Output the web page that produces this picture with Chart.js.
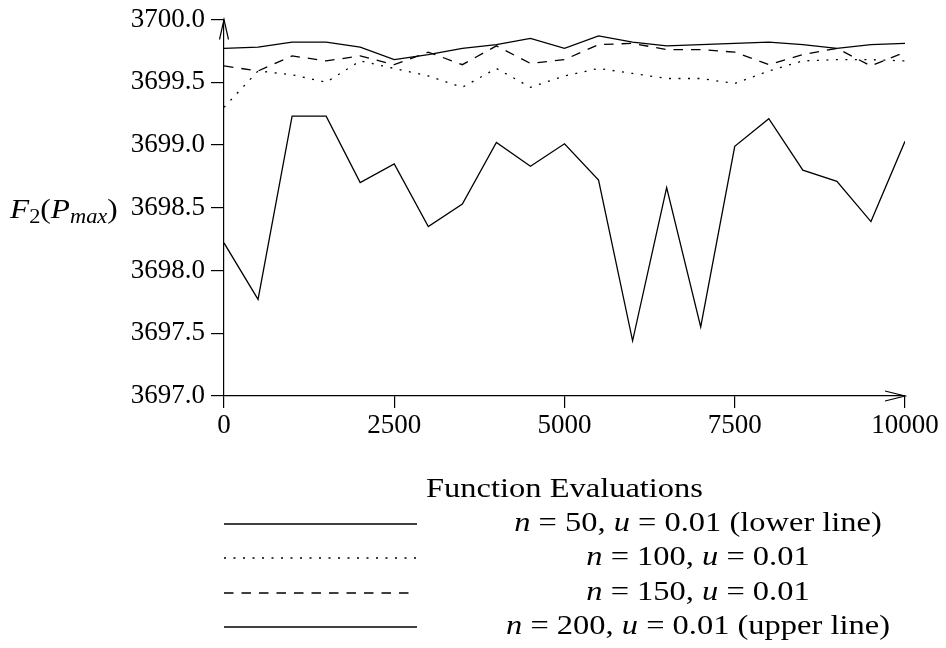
<!DOCTYPE html>
<html>
<head>
<meta charset="utf-8">
<script src="https://cdn.jsdelivr.net/npm/chart.js@4.4.1/dist/chart.umd.min.js"></script>
<style>
  html, body { margin: 0; padding: 0; background: #fff; overflow: hidden; }
</style>
</head>
<body>
<canvas id="myChart" width="946" height="648"></canvas>
<script>
// function evaluations (x) and F2(Pmax) per run
const evals = [0, 500, 1000, 1500, 2000, 2500, 3000, 3500, 4000, 4500, 5000,
               5500, 6000, 6500, 7000, 7500, 8000, 8500, 9000, 9500, 10000];
const n50 = [3698.22, 3697.77, 3699.23, 3699.23, 3698.70, 3698.85, 3698.35, 3698.53, 3699.02, 3698.83, 3699.01,
             3698.72, 3697.44, 3698.66, 3697.55, 3698.99, 3699.21, 3698.80, 3698.71, 3698.39, 3699.03];
const n100 = [3699.30, 3699.59, 3699.56, 3699.50, 3699.67, 3699.61, 3699.55, 3699.46, 3699.61, 3699.46, 3699.55,
              3699.61, 3699.57, 3699.53, 3699.53, 3699.49, 3699.59, 3699.67, 3699.68, 3699.68, 3699.67];
const n150 = [3699.63, 3699.59, 3699.71, 3699.67, 3699.71, 3699.64, 3699.74, 3699.64, 3699.79, 3699.65, 3699.68,
              3699.80, 3699.81, 3699.76, 3699.76, 3699.74, 3699.64, 3699.72, 3699.77, 3699.63, 3699.74];
const n200 = [3699.77, 3699.78, 3699.82, 3699.82, 3699.78, 3699.68, 3699.72, 3699.77, 3699.80, 3699.85, 3699.77,
              3699.87, 3699.82, 3699.79, 3699.80, 3699.81, 3699.82, 3699.80, 3699.77, 3699.80, 3699.81];
const xTicks = [0, 2500, 5000, 7500, 10000];
const yTicks = [3697.0, 3697.5, 3698.0, 3698.5, 3699.0, 3699.5, 3700.0];

// legend labels, [text, italic]
const legendRows = [
  [["n", 1], [" = 50, ", 0], ["u", 1], [" = 0.01 (lower line)", 0]],
  [["n", 1], [" = 100, ", 0], ["u", 1], [" = 0.01", 0]],
  [["n", 1], [" = 150, ", 0], ["u", 1], [" = 0.01", 0]],
  [["n", 1], [" = 200, ", 0], ["u", 1], [" = 0.01 (upper line)", 0]]
];

const FONT = '"Liberation Serif", "DejaVu Serif", serif';
const STRETCH = 1.16;   // the original serif runs wider than Liberation

function richText(ctx, parts, x, y, size) {
  let w = 0;
  parts.forEach(p => {
    ctx.font = (p[1] ? 'italic ' : '') + size + 'px ' + FONT;
    w += ctx.measureText(p[0]).width;
  });
  ctx.save();
  ctx.translate(x, y);
  ctx.scale(STRETCH, 1);
  let cx = -w / 2;
  parts.forEach(p => {
    ctx.font = (p[1] ? 'italic ' : '') + size + 'px ' + FONT;
    ctx.fillText(p[0], cx, 0);
    cx += ctx.measureText(p[0]).width;
  });
  ctx.restore();
}

const extras = {
  id: 'extras',
  afterDraw(chart) {
    const ctx = chart.ctx, a = chart.chartArea, ys = chart.scales.y;
    ctx.save();
    ctx.strokeStyle = '#000';
    ctx.fillStyle = '#000';
    ctx.lineWidth = 1.2;
    // arrow heads on the axes
    ctx.beginPath();
    ctx.moveTo(a.left - 4.5, a.top + 20); ctx.lineTo(a.left, a.top); ctx.lineTo(a.left + 4.5, a.top + 20);
    ctx.moveTo(a.right - 20, a.bottom - 5); ctx.lineTo(a.right, a.bottom); ctx.lineTo(a.right - 20, a.bottom + 5);
    ctx.stroke();

    // y title F2(Pmax), horizontal at the left
    ctx.textBaseline = 'alphabetic';
    ctx.textAlign = 'left';
    const by = ys.getPixelForValue(3698.5) + 10;
    ctx.save();
    ctx.translate(10, by);
    ctx.scale(1.12, 1);
    let cx = 0;
    const put = (t, it, size, dy) => {
      ctx.font = (it ? 'italic ' : '') + size + 'px ' + FONT;
      ctx.fillText(t, cx, dy);
      cx += ctx.measureText(t).width;
    };
    put('F', 1, 28, 0); put('2', 0, 20, 5); put('(', 0, 28, 0);
    put('P', 1, 28, 0); put('max', 1, 20, 5); put(')', 0, 28, 0);
    ctx.restore();

    // x title
    ctx.textBaseline = 'middle';
    richText(ctx, [['Function Evaluations', 0]], (a.left + a.right) / 2, 490, 28);

    // legend
    const rowY = [524, 558, 593, 627];
    chart.data.datasets.forEach((ds, i) => {
      ctx.beginPath();
      ctx.setLineDash(ds.legendDash || []);
      ctx.lineWidth = 1.4;
      ctx.moveTo(224, rowY[i]); ctx.lineTo(i === 2 ? 410 : 417, rowY[i]);
      ctx.stroke();
      ctx.setLineDash([]);
      richText(ctx, legendRows[i], 698, rowY[i], 28);
    });
    ctx.restore();
  }
};

const mk = (label, data, dash) => ({
  label: label, data: data, borderColor: '#000', borderWidth: 1.3,
  borderDash: dash, legendDash: dash, pointRadius: 0, tension: 0, fill: false
});

new Chart("myChart", {
  type: "line",
  data: {
    labels: evals,
    datasets: [
      mk('n = 50', n50, []),
      mk('n = 100', n100, [2, 7.5]),
      mk('n = 150', n150, [9.5, 8]),
      mk('n = 200', n200, [])
    ]
  },
  options: {
    responsive: false,
    animation: false,
    devicePixelRatio: 1,
    layout: { padding: { top: 16, right: 41, left: 0, bottom: 0 } },
    plugins: { legend: { display: false }, tooltip: { enabled: false } },
    scales: {
      x: {
        type: 'linear', min: 0, max: 10000,
        afterFit: s => { s.height = 252; },
        afterBuildTicks: s => { s.ticks = xTicks.map(v => ({ value: v })); },
        border: { color: '#000', width: 1.2 },
        grid: { drawOnChartArea: false, tickLength: 12, color: '#000', lineWidth: 1.2 },
        ticks: { color: '#000', padding: 4, maxRotation: 0,
                 font: { family: FONT, size: 27, lineHeight: 1 },
                 callback: v => String(v) }
      },
      y: {
        min: 3697, max: 3700,
        afterFit: s => { s.width = 224; },
        afterBuildTicks: s => { s.ticks = yTicks.map(v => ({ value: v })); },
        border: { color: '#000', width: 1.2 },
        grid: { drawOnChartArea: false, tickLength: 13, color: '#000', lineWidth: 1.2 },
        ticks: { color: '#000', padding: 6, font: { family: FONT, size: 27, lineHeight: 1 },
                 callback: v => v.toFixed(1) }
      }
    }
  },
  plugins: [extras]
});
</script>
</body>
</html>
